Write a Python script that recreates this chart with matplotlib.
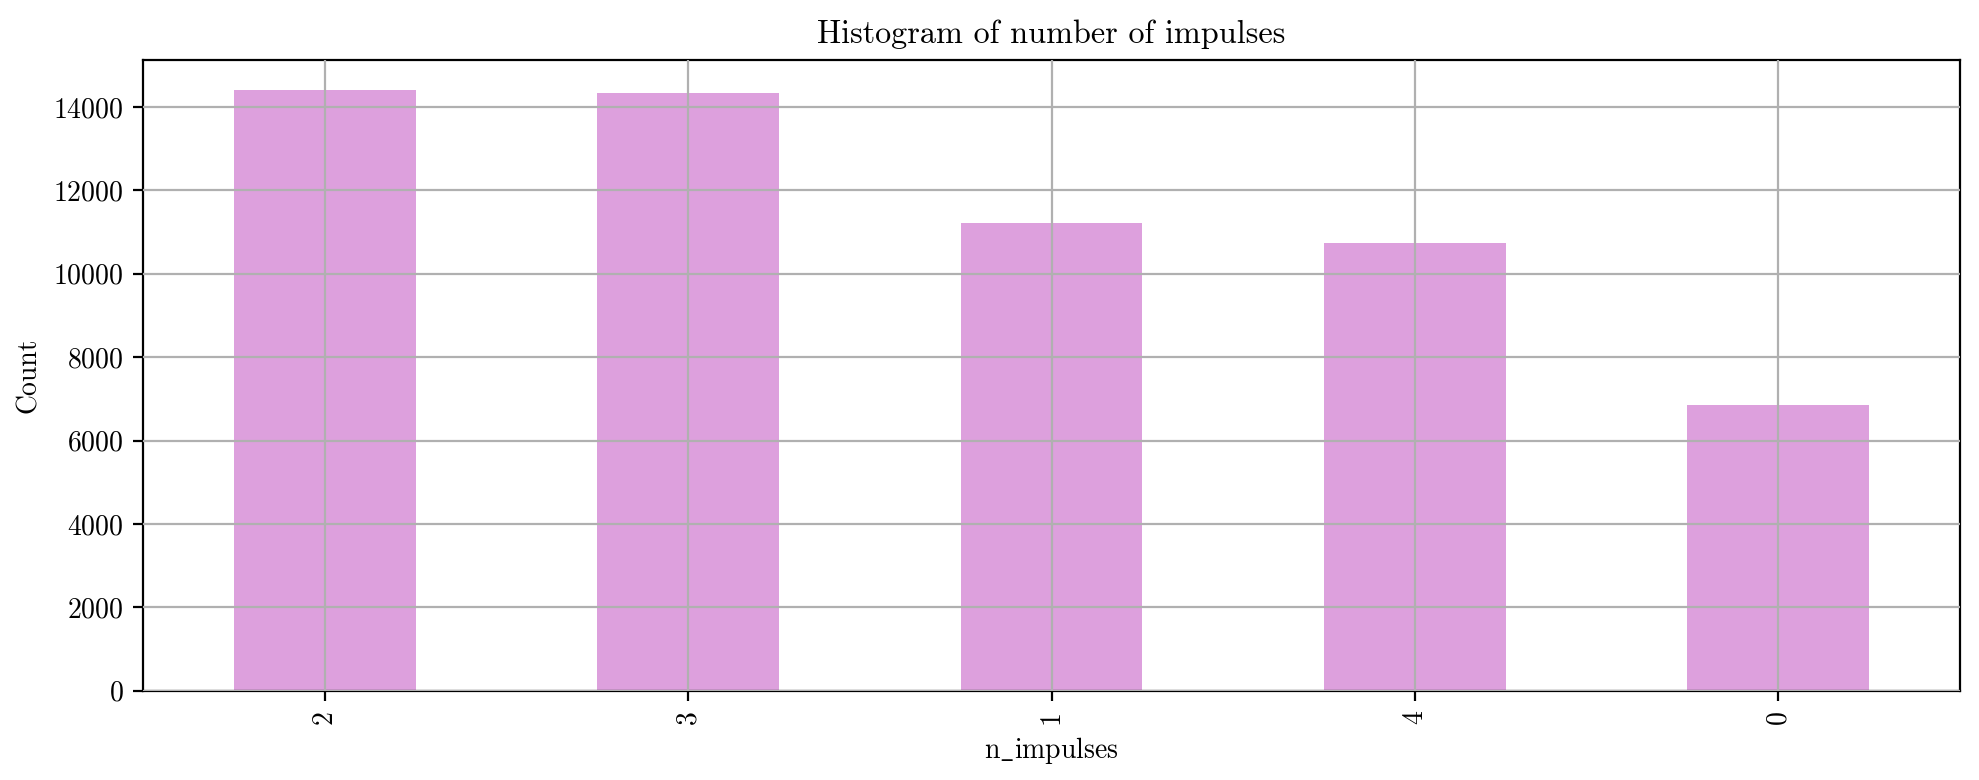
import numpy as np
import pandas as pd
from matplotlib import pyplot as plt

plt.rcParams['font.family'] = 'serif'
plt.rcParams['font.serif'] = ['cmr10']
plt.rcParams['mathtext.fontset'] = 'cm'
plt.rcParams['axes.formatter.use_mathtext'] = True
plt.rcParams['axes.unicode_minus'] = False

# value counts of n_impulses, sorted descending
categories = ['2', '3', '1', '4', '0']
counts = [14405, 14341, 11216, 10736, 6851]

counts_series = pd.Series(counts, index=categories)

fig = plt.figure(figsize=(9.895, 3.9), dpi=200)
ax = fig.add_axes([0.0724, 0.1145, 0.918, 0.8085])
counts_series.plot.bar(ax=ax, color='plum', width=0.5)
ax.grid(True, color='#b0b0b0', linewidth=0.8)
ax.set_axisbelow(False)
ax.set_title('Histogram of number of impulses', fontsize=11.6)
ax.set_xlabel(r'$\mathrm{n\_impulses}$', fontsize=10)
ax.set_ylabel('Count', fontsize=10)
ax.tick_params(axis='x', labelrotation=90)
for spine in ax.spines.values():
    spine.set_color('black')
plt.savefig('out.png', dpi=200)
